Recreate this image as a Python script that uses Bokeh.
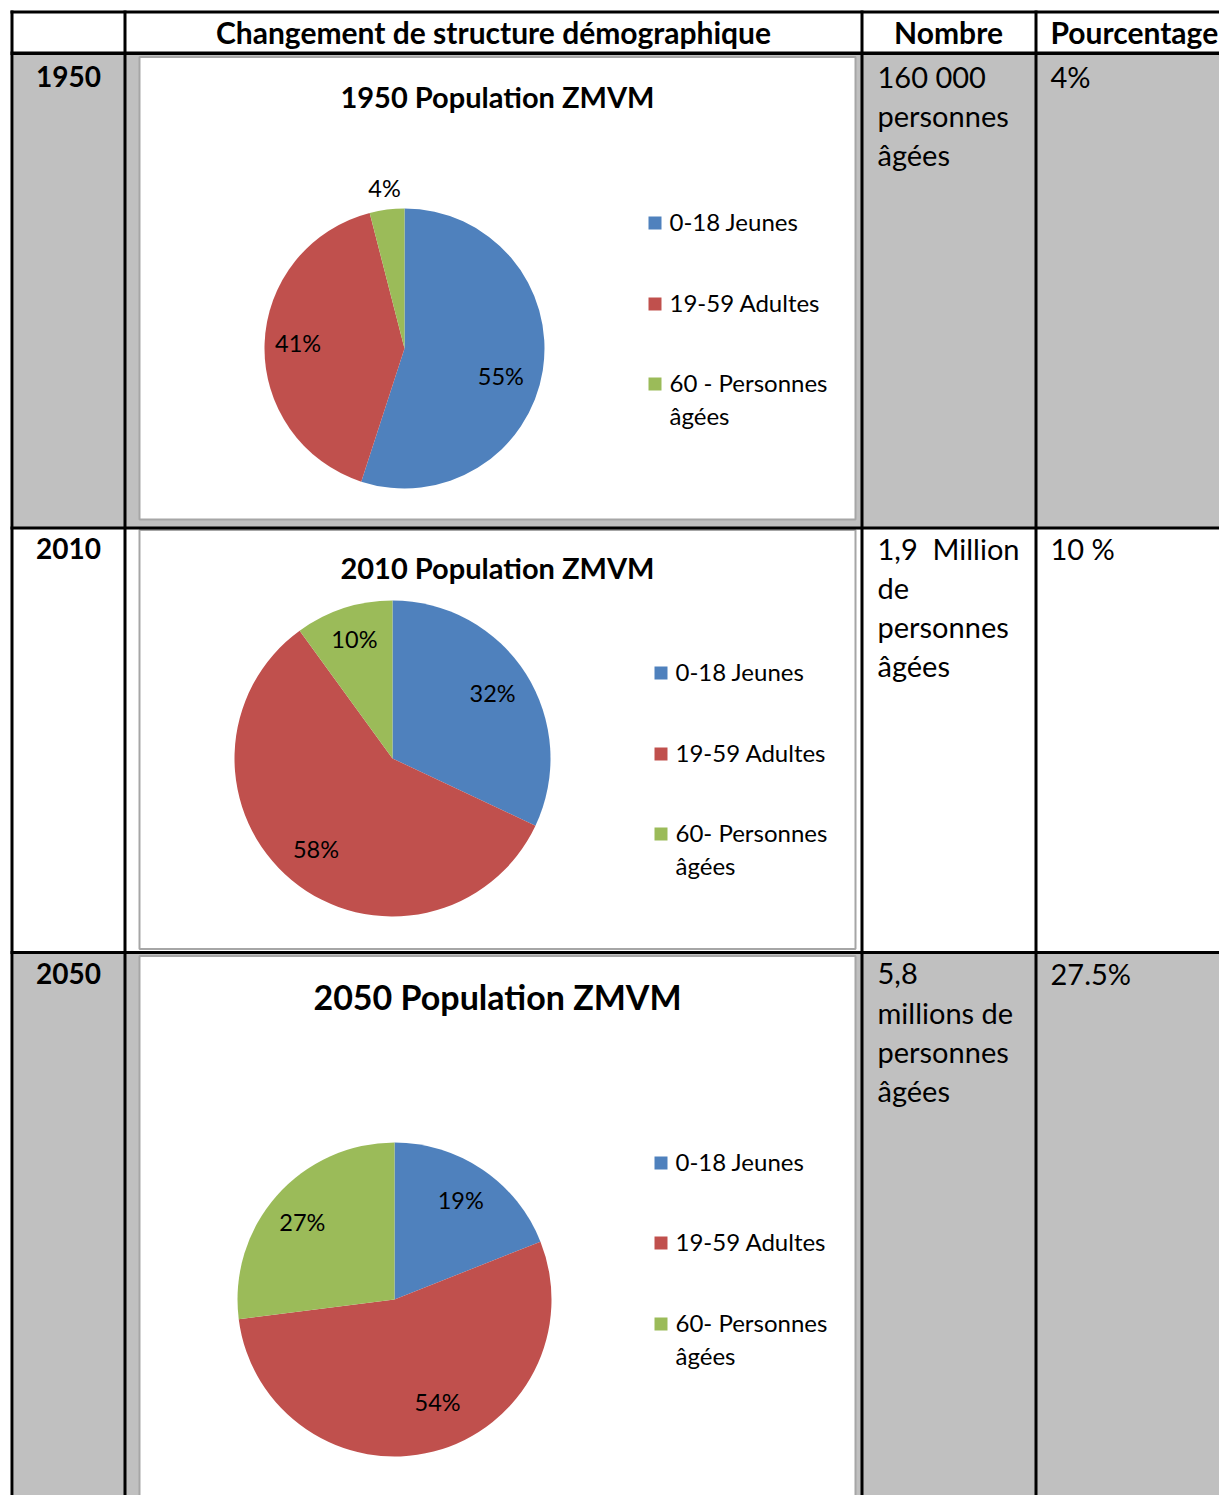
import numpy as np
from bokeh.plotting import figure
from bokeh.models import Range1d
from bokeh.core.properties import value
from bokeh.embed import file_html
from bokeh.resources import INLINE

# ---------------- data ----------------
headers = ["Changement de structure démographique", "Nombre", "Pourcentage"]
years = ["1950", "2010", "2050"]
chart_titles = ["1950 Population ZMVM", "2010 Population ZMVM", "2050 Population ZMVM"]
legend_1950 = ["0-18 Jeunes", "19-59 Adultes", "60 - Personnes âgées"]
legend_2010 = ["0-18 Jeunes", "19-59 Adultes", "60- Personnes âgées"]
legend_2050 = ["0-18 Jeunes", "19-59 Adultes", "60- Personnes âgées"]
shares_1950 = [55, 41, 4]
shares_2010 = [32, 58, 10]
shares_2050 = [19, 54, 27]
nombre_1950 = ["160 000", "personnes", "âgées"]
nombre_2010 = ["1,9  Million", "de", "personnes", "âgées"]
nombre_2050 = ["5,8", "millions de", "personnes", "âgées"]
pourcentage = ["4%", "10 %", "27.5%"]
colors = ["#4F81BD", "#C0504D", "#9BBB59"]

# ---------------- layout (page pixels, y downward) ----------------
H = 1495
def Y(y):
    return H - y

FONT = value("Lato")
W_FIG, H_FIG = 1219, 1495
p = figure(width=W_FIG, height=H_FIG, output_backend="svg", toolbar_location=None,
           x_range=Range1d(0, W_FIG), y_range=Range1d(Y(H_FIG), Y(0)),
           min_border=0, outline_line_color=None, background_fill_color="white",
           border_fill_color="white")
p.axis.visible = False
p.xgrid.visible = False
p.ygrid.visible = False

X_END = 1225
Y_END = 1500
row_spans = [(54, 526.5), (529, 951), (953, Y_END)]
row_fill = ["#C0C0C0", "#FFFFFF", "#C0C0C0"]

# row backgrounds
for (t, b), c in zip(row_spans, row_fill):
    p.quad(left=13, right=X_END, top=Y(t), bottom=Y(b), fill_color=c, line_color=None)

# chart boxes
chart_boxes = [(56.5, 519), (529.5, 948.5), (955.5, Y_END)]
for (t, b) in chart_boxes:
    p.quad(left=139, right=855, top=Y(t), bottom=Y(b), fill_color="white",
           line_color="#A6A6A6", line_width=2)

# black grid lines (as thin filled bands)
hlines = [(10, 13), (51, 54.5), (526, 529), (950.5, 953.5)]
for t, b in hlines:
    p.quad(left=10, right=X_END, top=Y(t), bottom=Y(b), fill_color="black", line_color=None)
vlines = [(10, 13), (123, 126), (860, 863), (1034, 1037)]
for l, r in vlines:
    p.quad(left=l, right=r, top=Y(10), bottom=Y(Y_END), fill_color="black", line_color=None)

TEXT_DY = -2
def txt(x, y, s, size, bold=False, align="left"):
    s = s.replace("  ", " \u00a0")
    p.text(x=[x], y=[Y(y + TEXT_DY)], text=[s], text_font=FONT, text_font_size=value(f"{size}px"),
           text_font_style="bold" if bold else "normal", text_align=align,
           text_baseline="middle", text_color="black")

# header
txt(493, 33, headers[0], 30, bold=True, align="center")
txt(948, 33, headers[1], 30, bold=True, align="center")
txt(1050, 33, headers[2], 30, bold=True, align="left")

row_tops = [54, 526, 951]
nombres = [nombre_1950, nombre_2010, nombre_2050]
for i, yr in enumerate(years):
    y0 = row_tops[i] + 24
    txt(68, y0, yr, 28, bold=True, align="center")
    for k, line in enumerate(nombres[i]):
        txt(877, y0 + 39 * k, line, 29)
    txt(1050, y0, pourcentage[i], 29)

# pies
pie_centers = [(404, 348), (392, 758), (394, 1299)]
pie_radii = [140, 158, 157]
title_y = [98, 569, 998]
title_size = [29, 29, 34]
legend_x = [648, 654, 654]
legend_y = [(223, 304, 384), (673, 754, 834), (1163, 1243, 1324)]
label_frac = [[0.72, 0.76, 1.14], [0.75, 0.76, 0.78], [0.75, 0.72, 0.76]]
label_turn = [[-8, 0, 0], [0, 0, 0], [0, 8, 2]]   # degrees, placement nudge
shares_all = [shares_1950, shares_2010, shares_2050]
legends_all = [legend_1950, legend_2010, legend_2050]

for i in range(3):
    cx, cy = pie_centers[i]
    r = pie_radii[i]
    vals = np.array(shares_all[i], dtype=float)
    frac = vals / vals.sum()
    cum = np.concatenate([[0], np.cumsum(frac)])
    start = np.pi / 2 - 2 * np.pi * cum[1:]
    end = np.pi / 2 - 2 * np.pi * cum[:-1]
    p.wedge(x=[cx] * 3, y=[Y(cy)] * 3, radius=r, start_angle=list(start),
            end_angle=list(end), fill_color=colors, line_color=None)
    mid = (start + end) / 2
    for k in range(3):
        rf = label_frac[i][k] * r
        a = mid[k] + np.radians(label_turn[i][k])
        lx = cx + rf * np.cos(a)
        ly = cy - rf * np.sin(a)
        txt(lx, ly, f"{int(shares_all[i][k])}%", 23.5, align="center")
    txt(497, title_y[i], chart_titles[i], title_size[i], bold=True, align="center")
    # legend
    lx0 = legend_x[i]
    for k, lab in enumerate(legends_all[i]):
        ly = legend_y[i][k]
        p.quad(left=lx0, right=lx0 + 13, top=Y(ly - 7), bottom=Y(ly + 6),
               fill_color=colors[k], line_color=None)
        parts = [lab] if len(lab) < 16 else lab.rsplit(" ", 1)
        for j, part in enumerate(parts):
            txt(lx0 + 21, ly + 33 * j, part, 24)

open("out.html", "w").write(file_html(p, INLINE))
